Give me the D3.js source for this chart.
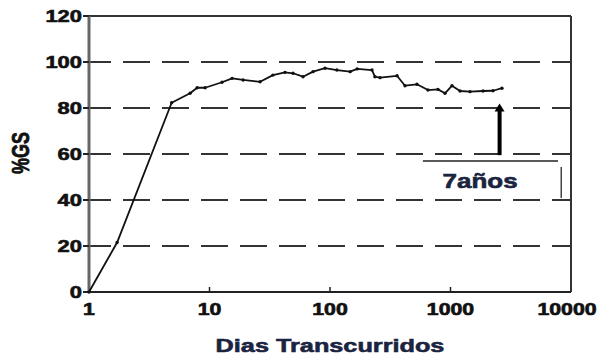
<!DOCTYPE html>
<html>
<head>
<meta charset="utf-8">
<script src="https://cdn.jsdelivr.net/npm/d3@7"></script>
<style>
  html, body { margin: 0; padding: 0; background: #fff; }
  svg { display: block; }
  text { font-family: "Liberation Sans", Arial, sans-serif; font-weight: bold; }
</style>
</head>
<body>
<svg id="chart" width="602" height="355"></svg>
<script>
// Elapsed days (log scale) and %GS readings
const days = [1, 1.71, 4.85, 6.9, 7.9, 9.2, 12.7, 15.4, 19, 26.3, 33.6, 42.3, 49.3, 59.7, 72.3, 91,
  114, 147, 168, 223, 236, 260, 360, 419, 527, 650, 787, 900, 1029, 1199, 1452, 1862, 2254, 2674];
const gs = [0, 21.5, 82.3, 86.4, 88.8, 88.8, 91.2, 92.9, 92.2, 91.4, 94.3, 95.5, 95.1, 93.6, 95.8, 97.3,
  96.5, 95.8, 97, 96.5, 93.6, 93.2, 94, 89.7, 90.3, 87.8, 88.1, 86.4, 89.7, 87.4, 87.1, 87.4, 87.5, 88.6];

const xTicks = [1, 10, 100, 1000, 10000];
const yTicks = [0, 20, 40, 60, 80, 100, 120];
const gridValues = [20, 40, 60, 80, 100];

// 7 years marker
const markDay = 2555;
const markFrom = 59.5, markTo = 82;
const markLabel = "7años";

const xTitle = "Dias Transcurridos";
const yTitle = "%GS";

const svg = d3.select("#chart");
const x = d3.scaleLog().domain([1, 10000]).range([89, 571]);
const y = d3.scaleLinear().domain([0, 120]).range([292, 16]);

const SX = 1.33; // wide lettering

function label(g, tx, ty, str, opts) {
  const fill = opts.fill || "#111";
  return g.append("text")
    .attr("transform", `translate(${tx},${ty}) scale(${SX},1)` + (opts.rotate ? ` rotate(${opts.rotate})` : ""))
    .attr("text-anchor", opts.anchor || "middle")
    .attr("dy", opts.dy || 0)
    .attr("font-size", opts.size)
    .attr("fill", fill)
    .attr("stroke", fill)
    .attr("stroke-width", 0.6)
    .text(str);
}

// dashed horizontal grid
svg.append("g").selectAll("line").data(gridValues).join("line")
  .attr("x1", x(1) - 5).attr("x2", x(10000))
  .attr("y1", d => y(d)).attr("y2", d => y(d))
  .attr("stroke", "#333").attr("stroke-width", 2)
  .attr("stroke-dasharray", "27,12");

// frame
svg.append("line").attr("x1", x(1)).attr("x2", x(10000)).attr("y1", y(120)).attr("y2", y(120))
  .attr("stroke", "#333").attr("stroke-width", 2);
svg.append("line").attr("x1", x(10000)).attr("x2", x(10000)).attr("y1", y(120)).attr("y2", y(0))
  .attr("stroke", "#333").attr("stroke-width", 2);
svg.append("line").attr("x1", x(1)).attr("x2", x(10000)).attr("y1", y(0)).attr("y2", y(0))
  .attr("stroke", "#222").attr("stroke-width", 2);
svg.append("line").attr("x1", x(1)).attr("x2", x(1)).attr("y1", y(120)).attr("y2", y(0))
  .attr("stroke", "#666").attr("stroke-width", 3);

// y axis ticks and labels
const yAxis = svg.append("g");
yAxis.selectAll("line").data(yTicks).join("line")
  .attr("x1", x(1) - 6).attr("x2", x(1))
  .attr("y1", d => y(d)).attr("y2", d => y(d))
  .attr("stroke", "#222").attr("stroke-width", 2);
yTicks.forEach(v => label(yAxis, 82, y(v), String(v), { anchor: "end", dy: "0.36em", size: 16.5 }));

// x axis ticks and labels
const xAxis = svg.append("g");
xAxis.selectAll("line").data(xTicks.slice(1, -1)).join("line")
  .attr("x1", d => x(d)).attr("x2", d => x(d))
  .attr("y1", y(0)).attr("y2", y(0) - 5)
  .attr("stroke", "#222").attr("stroke-width", 1.5);
xTicks.forEach(v => label(xAxis, v === 10000 ? x(v) - 4 : x(v), 315, String(v), { size: 16 }));

// axis titles
label(svg, 330, 352, xTitle, { size: 19, fill: "#1a2440" });
label(svg, 29, 153, yTitle, { size: 18, rotate: -90 });

// data line
const line = d3.line().x((d, i) => x(days[i])).y((d, i) => y(gs[i]));
svg.append("path").datum(gs)
  .attr("d", line)
  .attr("fill", "none").attr("stroke", "#111").attr("stroke-width", 1.8)
  .attr("stroke-linejoin", "round");
svg.append("g").selectAll("circle").data(gs).join("circle")
  .attr("cx", (d, i) => x(days[i])).attr("cy", d => y(d))
  .attr("r", 1.7).attr("fill", "#111");

// 7-year arrow
const ax = x(markDay);
svg.append("line").attr("x1", ax).attr("x2", ax)
  .attr("y1", y(markFrom)).attr("y2", y(markTo) + 7)
  .attr("stroke", "#000").attr("stroke-width", 4);
svg.append("path")
  .attr("d", `M${ax - 5},${y(markTo) + 8} L${ax + 5},${y(markTo) + 8} L${ax},${y(markTo)} Z`)
  .attr("fill", "#000");

// label box (top edge and right edge)
svg.append("line").attr("x1", x(590)).attr("x2", x(7800)).attr("y1", y(57)).attr("y2", y(57))
  .attr("stroke", "#222").attr("stroke-width", 1.5);
svg.append("line").attr("x1", x(8300)).attr("x2", x(8300)).attr("y1", y(54.3)).attr("y2", y(40.9))
  .attr("stroke", "#444").attr("stroke-width", 1.5);
label(svg, x(1760), y(45.2), markLabel, { size: 19.5, fill: "#1a2440" });
</script>
</body>
</html>
